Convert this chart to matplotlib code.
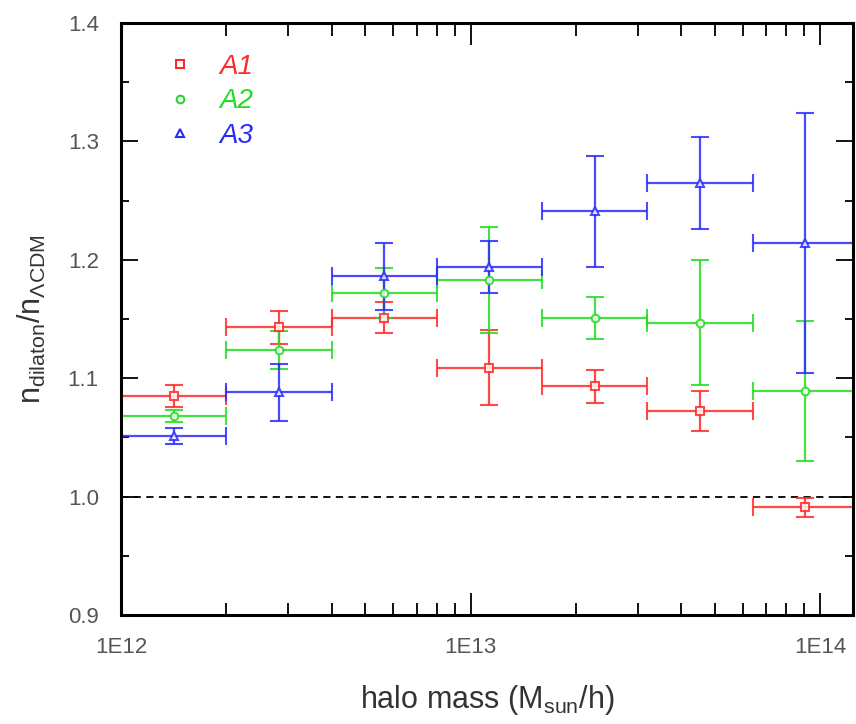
import numpy as np
import matplotlib
matplotlib.use("Agg")
import matplotlib.pyplot as plt
from matplotlib.lines import Line2D
from matplotlib.ticker import MultipleLocator, LogLocator, NullFormatter, FixedLocator, FixedFormatter

plt.rcParams['font.family'] = ['Liberation Sans', 'DejaVu Sans']
plt.rcParams['mathtext.fontset'] = 'custom'
plt.rcParams['mathtext.rm'] = 'Liberation Sans'

# mass bin edges (M_sun/h)
bin_edges = [1e12, 2e12, 4e12, 8e12, 1.6e13, 3.2e13, 6.4e13, 1.28e14]

# ratio n_dilaton / n_LCDM and errors per bin
a1_ratio = [1.085, 1.143, 1.151, 1.109, 1.093, 1.072, 0.991]
a1_err = [0.0095, 0.014, 0.013, 0.032, 0.014, 0.017, 0.008]
a2_ratio = [1.068, 1.124, 1.172, 1.183, 1.151, 1.147, 1.089]
a2_err = [0.005, 0.016, 0.021, 0.045, 0.018, 0.053, 0.059]
a3_ratio = [1.051, 1.088, 1.186, 1.194, 1.241, 1.265, 1.214]
a3_err = [0.007, 0.024, 0.028, 0.022, 0.047, 0.039, 0.110]

labels = ['A1', 'A2', 'A3']
colors = ['#ff2a2a', '#22dd22', '#2a2aff']
markers = ['s', 'o', '^']

edges = np.array(bin_edges)
centers = np.sqrt(edges[:-1] * edges[1:])
xerr = [centers - edges[:-1], edges[1:] - centers]

fig = plt.figure(figsize=(8.56, 7.24), dpi=100)
ax = fig.add_axes([0.1414, 0.1506, 0.8551, 0.8176])

ax.axhline(1.0, color='black', lw=1.3, ls=(0, (4, 3)), zorder=1)

series = [(a1_ratio, a1_err), (a2_ratio, a2_err), (a3_ratio, a3_err)]
for (ratio, err), c, m in zip(series, colors, markers):
    ax.errorbar(centers, ratio, yerr=err, xerr=xerr, fmt=m, color=c,
                ms=5.5, mfc='white', mec=c, mew=1.5, elinewidth=1.6,
                capsize=6.5, capthick=1.6, alpha=0.85, zorder=2)

ax.set_xscale('log')
ax.set_xlim(1e12, 1.24e14)
ax.set_ylim(0.9, 1.4)

ax.xaxis.set_major_locator(FixedLocator([1e12, 1e13, 1e14]))
ax.xaxis.set_major_formatter(FixedFormatter(['1E12', '1E13', '1E14']))
ax.xaxis.set_minor_locator(LogLocator(base=10, subs=np.arange(2, 10)))
ax.xaxis.set_minor_formatter(NullFormatter())
ax.yaxis.set_major_locator(MultipleLocator(0.1))
ax.yaxis.set_minor_locator(MultipleLocator(0.05))
ax.yaxis.set_major_formatter(plt.FuncFormatter(lambda v, p: f'{v:.1f}'))

ax.tick_params(which='both', direction='in', top=True, right=True,
               labelsize=16, colors='black', labelcolor='#555555')
ax.tick_params(axis='x', which='major', length=16, width=1.3, pad=16)
ax.tick_params(axis='x', which='minor', length=9, width=1.3)
ax.tick_params(axis='y', which='major', length=12, width=1.3, pad=16)
ax.tick_params(axis='y', which='minor', length=6, width=1.3)
for s in ax.spines.values():
    s.set_linewidth(2.2)

ax.set_xlabel(r'halo mass (M$_{\mathrm{sun}}$/h)', fontsize=22, color='#333333', labelpad=18)
ax.set_ylabel(r'n$_{\mathrm{dilaton}}$/n$_{\Lambda\mathrm{CDM}}$', fontsize=22, color='#333333', labelpad=14)

handles = [Line2D([], [], ls='none', marker=m, color=c, mfc='white', mec=c, ms=5.5, mew=1.5)
           for c, m in zip(colors, markers)]
ax.legend(handles, labels, loc='upper left', bbox_to_anchor=(0.028, 0.99), frameon=False,
          prop={'style': 'italic', 'size': 20}, labelcolor=colors,
          handlelength=1.0, handletextpad=0.9, labelspacing=0.3)

fig.savefig('out.png', dpi=100)
